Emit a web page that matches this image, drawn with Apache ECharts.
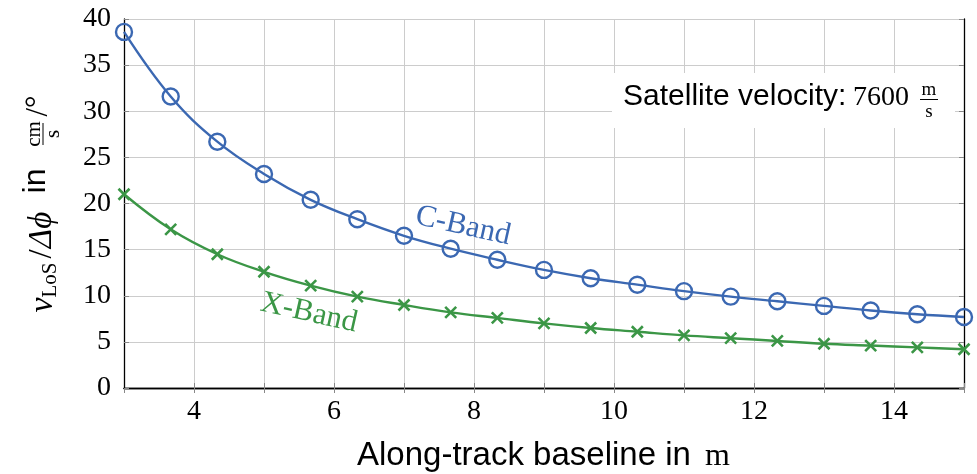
<!DOCTYPE html>
<html>
<head>
<meta charset="utf-8">
<script src="https://cdn.jsdelivr.net/npm/echarts@6/dist/echarts.min.js"></script>
<style>
html,body{margin:0;padding:0;background:#fff;}
#chart{width:977px;height:474px;}
</style>
</head>
<body>
<div id="chart"></div>
<script>
// Along-track baseline in m
var baselines = [3, 3.667, 4.333, 5, 5.667, 6.333, 7, 7.667, 8.333, 9, 9.667, 10.333, 11, 11.667, 12.333, 13, 13.667, 14.333, 15];
// v_LoS / Δφ in cm/s/°
var cBand = [38.6, 31.6, 26.7, 23.2, 20.4, 18.3, 16.5, 15.1, 13.9, 12.8, 11.9, 11.2, 10.5, 9.9, 9.4, 8.9, 8.4, 8.0, 7.7];
var xBand = [21.0, 17.2, 14.5, 12.6, 11.1, 9.9, 9.0, 8.2, 7.6, 7.0, 6.5, 6.1, 5.7, 5.4, 5.1, 4.8, 4.6, 4.4, 4.2];
var xTickLabels = ['4', '6', '8', '10', '12', '14'];
var yTickLabels = ['0', '5', '10', '15', '20', '25', '30', '35', '40'];
var seriesNames = ['C-Band', 'X-Band'];

var BLUE = '#3b68b2';
var GREEN = '#3b9646';
var SERIF = '"Liberation Serif", "DejaVu Serif", serif';
var SANS = '"Liberation Sans", Arial, sans-serif';

function pairs(xs, ys) { return xs.map(function (x, i) { return [x, ys[i]]; }); }

var chart = echarts.init(document.getElementById('chart'), null, {renderer: 'canvas'});

var axisCommon = {
  type: 'value',
  axisLine: {show: true, lineStyle: {color: '#000', width: 1.3}},
  axisTick: {show: true, inside: true, length: 5, lineStyle: {color: '#888', width: 1}}
};

var option = {
  backgroundColor: '#fff',
  animation: false,
  grid: {left: 124, right: 13, top: 19, bottom: 86, containLabel: false},
  xAxis: [
    Object.assign({}, axisCommon, {
      position: 'bottom', min: 3, max: 15, interval: 1,
      axisLabel: {
        margin: 10, color: '#000', fontFamily: SERIF, fontSize: 28,
        showMinLabel: false,
        formatter: function (v) { var s = String(v); return xTickLabels.indexOf(s) >= 0 ? s : ''; }
      },
      splitLine: {show: true, lineStyle: {color: '#cccccc', width: 1}}
    }),
    Object.assign({}, axisCommon, {
      position: 'top', min: 3, max: 15, interval: 1,
      axisLabel: {show: false}, splitLine: {show: false}
    })
  ],
  yAxis: [
    Object.assign({}, axisCommon, {
      position: 'left', min: 0, max: 40, interval: 5,
      axisLabel: {
        margin: 13, color: '#000', fontFamily: SERIF, fontSize: 28,
        formatter: function (v) { var s = String(v); return yTickLabels.indexOf(s) >= 0 ? s : ''; }
      },
      splitLine: {show: true, lineStyle: {color: '#cccccc', width: 1}}
    }),
    Object.assign({}, axisCommon, {
      position: 'right', min: 0, max: 40, interval: 5,
      axisLabel: {show: false}, splitLine: {show: false}
    })
  ],
  series: [
    {
      name: seriesNames[0], type: 'line', data: pairs(baselines, cBand),
      smooth: 0.4, clip: false, z: 3,
      symbol: 'circle', symbolSize: 16, showAllSymbol: true,
      lineStyle: {color: BLUE, width: 2.4},
      itemStyle: {color: 'rgba(0,0,0,0)', borderColor: BLUE, borderWidth: 2.4}
    },
    {
      name: seriesNames[1], type: 'line', data: pairs(baselines, xBand),
      smooth: 0.4, clip: false, z: 3,
      symbol: 'path://M0,0L10,10M10,0L0,10', symbolSize: 11, showAllSymbol: true,
      lineStyle: {color: GREEN, width: 2.4},
      itemStyle: {color: GREEN, borderColor: GREEN, borderWidth: 2.6}
    }
  ],
  graphic: [
    // Annotation box
    {type: 'rect', z: 50, shape: {x: 612, y: 73, width: 343, height: 55}, style: {fill: '#fff'}},
    {type: 'text', z: 51, x: 623, y: 97, style: {text: 'Satellite velocity:', font: '30px ' + SANS, fill: '#000', verticalAlign: 'middle'}},
    {type: 'text', z: 51, x: 853, y: 98, style: {text: '7600', font: '28px ' + SERIF, fill: '#000', verticalAlign: 'middle'}},
    {type: 'text', z: 51, x: 929, y: 90, style: {text: 'm', font: '19px ' + SERIF, fill: '#000', align: 'center', verticalAlign: 'middle'}},
    {type: 'line', z: 51, shape: {x1: 920, y1: 99.5, x2: 938, y2: 99.5}, style: {stroke: '#000', lineWidth: 1}},
    {type: 'text', z: 51, x: 929, y: 112, style: {text: 's', font: '19px ' + SERIF, fill: '#000', align: 'center', verticalAlign: 'middle'}},
    // Series labels
    {type: 'text', z: 20, x: 463, y: 226, rotation: -0.22, style: {text: 'C-Band', font: '31px ' + SERIF, fill: BLUE, align: 'center', verticalAlign: 'middle'}},
    {type: 'text', z: 20, x: 309, y: 313, rotation: -0.22, style: {text: 'X-Band', font: '31px ' + SERIF, fill: GREEN, align: 'center', verticalAlign: 'middle'}},
    // X axis title
    {type: 'text', z: 20, x: 357, y: 456, style: {text: 'Along-track baseline in', font: '33px ' + SANS, fill: '#000', verticalAlign: 'middle'}},
    {type: 'text', z: 20, x: 705, y: 457, style: {text: 'm', font: '32px ' + SERIF, fill: '#000', verticalAlign: 'middle'}},
    // Y axis title (rotated)
    {
      type: 'group', x: 42, y: 200, rotation: Math.PI / 2, z: 20,
      children: [
        {type: 'text', x: -105, y: 1, style: {text: 'v', font: 'italic 34px ' + SERIF, fill: '#000', align: 'center', verticalAlign: 'middle'}},
        {type: 'text', x: -80, y: 8, style: {text: 'LoS', font: '21px ' + SERIF, fill: '#000', align: 'center', verticalAlign: 'middle'}},
        {type: 'text', x: -54, y: 0, style: {text: '/', font: '33px ' + SERIF, fill: '#000', align: 'center', verticalAlign: 'middle'}},
        {type: 'text', x: -30, y: 0, style: {text: 'Δϕ', font: 'italic 33px ' + SERIF, fill: '#000', align: 'center', verticalAlign: 'middle'}},
        {type: 'text', x: 19, y: -6, style: {text: 'in', font: '32px ' + SANS, fill: '#000', align: 'center', verticalAlign: 'middle'}},
        {type: 'text', x: 66, y: -8, style: {text: 'cm', font: '21px ' + SERIF, fill: '#000', align: 'center', verticalAlign: 'middle'}},
        {type: 'line', shape: {x1: 55, y1: 1, x2: 77, y2: 1}, style: {stroke: '#000', lineWidth: 1}},
        {type: 'text', x: 66, y: 11, style: {text: 's', font: '21px ' + SERIF, fill: '#000', align: 'center', verticalAlign: 'middle'}},
        {type: 'text', x: 94, y: -3, style: {text: '/°', font: '31px ' + SERIF, fill: '#000', align: 'center', verticalAlign: 'middle'}}
      ]
    }
  ]
};
chart.setOption(option);
</script>
</body>
</html>
